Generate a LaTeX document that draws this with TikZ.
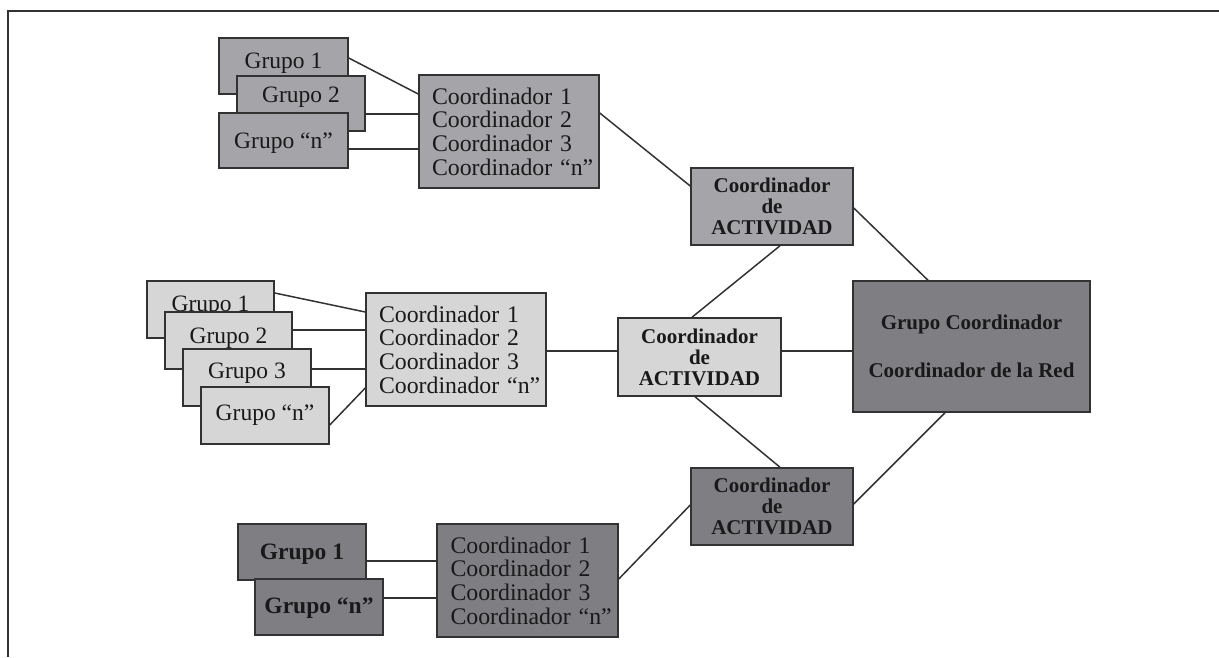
\documentclass[tikz,border=0pt]{standalone}
\usepackage{fontspec}
\setmainfont{Liberation Serif}
\definecolor{midg}{RGB}{164,164,169}
\definecolor{lightg}{RGB}{214,214,214}
\definecolor{darkg}{RGB}{127,126,131}
\definecolor{linec}{RGB}{50,50,50}
\begin{document}
\begin{tikzpicture}[x=1pt,y=-1pt,
  box/.style={draw=linec, line width=1.5pt, inner sep=0pt, text=black!90},
  grp/.style={box, minimum width=128pt, minimum height=56pt, text height=16pt, font=\fontsize{23.5}{24}\selectfont},
  boldgrp/.style={grp, font=\fontsize{23.5}{24}\selectfont\bfseries},
  coordbox/.style={box, minimum width=180pt, minimum height=113pt, text width=154pt, align=left, font=\fontsize{23.8}{23.7}\selectfont},
  actbox/.style={box, minimum width=162pt, minimum height=77pt, align=center, font=\fontsize{21}{21}\selectfont\bfseries},
  conn/.style={draw=linec, line width=1.5pt},
  frameline/.style={draw=linec, line width=2pt}]
\useasboundingbox (0,0) rectangle (1219,657);
\draw[frameline] (7.5,657) -- (7.5,10.5) -- (1219,10.5);

% top group
\node[grp, fill=midg, minimum width=129pt, text depth=12pt] (g1a) at (283.5,66) {Grupo 1};
\node[grp, fill=midg, minimum height=55pt, text depth=19pt] (g2a) at (301,103.5) {Grupo 2};
\node[grp, fill=midg, minimum width=129pt, minimum height=55pt, text depth=1pt] (gna) at (283.5,140.5) {Grupo “n”};
\node[coordbox, fill=midg] (ca) at (509,131.5) {Coordinador 1\\Coordinador 2\\Coordinador 3\\Coordinador~“n”};
\node[actbox, fill=midg] (aa) at (772,206.5) {Coordinador\\de\\ACTIVIDAD};

% middle group
\node[grp, fill=lightg, minimum width=127pt, minimum height=57pt, text depth=13pt] (g1b) at (210.5,309.5) {Grupo 1};
\node[grp, fill=lightg, minimum width=127pt, minimum height=57pt, text depth=11pt] (g2b) at (228.5,340.5) {Grupo 2};
\node[grp, fill=lightg, minimum height=57pt, text depth=15pt] (g3b) at (247,377.5) {Grupo 3};
\node[grp, fill=lightg, minimum height=57pt, text depth=7pt] (gnb) at (265,415.5) {Grupo “n”};
\node[coordbox, fill=lightg] (cb) at (456,349.5) {Coordinador 1\\Coordinador 2\\Coordinador 3\\Coordinador~“n”};
\node[actbox, fill=lightg, minimum width=163pt, minimum height=78pt] (ab) at (699.5,357) {Coordinador\\de\\ACTIVIDAD};

% right
\node[actbox, fill=darkg, minimum width=237pt, minimum height=131pt] (gc) at (971.5,346.5) {Grupo Coordinador\\[27pt]Coordinador de la Red};

% bottom group
\node[boldgrp, fill=darkg, text depth=2pt] (g1c) at (302,552) {Grupo 1};
\node[boldgrp, fill=darkg, text depth=4pt] (gnc) at (319,607) {Grupo “n”};
\node[coordbox, fill=darkg, minimum width=181pt] (cc) at (527.5,580.5) {Coordinador 1\\Coordinador 2\\Coordinador 3\\Coordinador~“n”};
\node[actbox, fill=darkg] (ac) at (772,506.5) {Coordinador\\de\\ACTIVIDAD};

% connectors
\draw[conn] ([yshift=8pt]g1a.east) -- ([yshift=37.5pt]ca.west);
\draw[conn] ([yshift=-10.5pt]g2a.east) -- ([yshift=17.5pt]ca.west);
\draw[conn] ([yshift=-8.5pt]gna.east) -- ([yshift=-17.5pt]ca.west);
\draw[conn] ([yshift=18.5pt]ca.east) -- ([yshift=20.5pt]aa.west);
\draw[conn] ([yshift=-1.5pt]aa.east) -- ([xshift=-43.5pt]gc.north);
\draw[conn] ([xshift=8pt]aa.south) -- ([xshift=-7.5pt]ab.north);
\draw[conn] ([yshift=16.5pt]g1b.east) -- ([yshift=37.5pt]cb.west);
\draw[conn] ([yshift=10.5pt]g2b.east) -- ([yshift=19.5pt]cb.west);
\draw[conn] ([yshift=8.5pt]g3b.east) -- ([yshift=-19.5pt]cb.west);
\draw[conn] ([yshift=-9.5pt]gnb.east) -- ([yshift=-38.5pt]cb.west);
\draw[conn] ([yshift=-1.5pt]cb.east) -- ([yshift=6pt]ab.west);
\draw[conn] ([yshift=6pt]ab.east) -- ([yshift=-4.5pt]gc.west);
\draw[conn] ([xshift=-4.5pt]ab.south) -- ([xshift=8pt]ac.north);
\draw[conn] ([xshift=-26.5pt]gc.south) -- ([yshift=2.5pt]ac.east);
\draw[conn] ([yshift=-9pt]g1c.east) -- ([yshift=19.5pt]cc.west);
\draw[conn] ([yshift=9pt]gnc.east) -- ([yshift=-17.5pt]cc.west);
\draw[conn] ([yshift=1.5pt]cc.east) -- ([yshift=1.5pt]ac.west);
\end{tikzpicture}
\end{document}
